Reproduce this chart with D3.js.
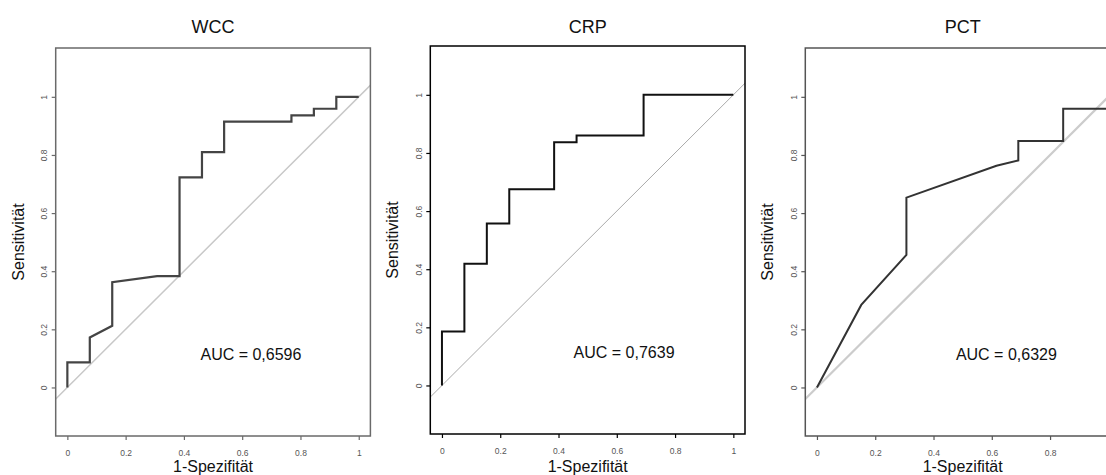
<!DOCTYPE html>
<html>
<head>
<meta charset="utf-8">
<script src="https://cdn.jsdelivr.net/npm/d3@7"></script>
<style>
body { margin: 0; background: #fff; }
svg { display: block; font-family: "Liberation Sans", Arial, sans-serif; }
</style>
</head>
<body>
<div id="chart"></div>
<script>
// ROC curves (x = 1-Spezifität, y = Sensitivität)
var wccFpr = [0, 0, 0.077, 0.077, 0.154, 0.154, 0.308, 0.385, 0.385, 0.462, 0.462, 0.538, 0.538, 0.769, 0.769, 0.846, 0.846, 0.923, 0.923, 1];
var wccTpr = [0, 0.086, 0.086, 0.172, 0.212, 0.362, 0.383, 0.383, 0.723, 0.723, 0.81, 0.81, 0.915, 0.915, 0.936, 0.936, 0.959, 0.959, 1, 1];

var crpFpr = [0, 0, 0.077, 0.077, 0.154, 0.154, 0.231, 0.231, 0.385, 0.385, 0.462, 0.462, 0.692, 0.692, 1];
var crpTpr = [0, 0.186, 0.186, 0.419, 0.419, 0.557, 0.557, 0.675, 0.675, 0.837, 0.837, 0.86, 0.86, 1, 1];

var pctFpr = [0, 0.152, 0.307, 0.307, 0.616, 0.691, 0.691, 0.845, 0.845, 1];
var pctTpr = [0, 0.284, 0.456, 0.653, 0.763, 0.781, 0.848, 0.848, 0.959, 0.959];

var titles = ["WCC", "CRP", "PCT"];
var aucLabels = ["AUC = 0,6596", "AUC = 0,7639", "AUC = 0,6329"];
var tickValues = [0, 0.2, 0.4, 0.6, 0.8, 1];
var tickLabels = ["0", "0.2", "0.4", "0.6", "0.8", "1"];

var width = 1106, height = 475;

var panels = [
    { fpr: wccFpr, tpr: wccTpr, left: 55.7, top: 48, box: "#6a6a6a", curve: "#444", curveW: 2.2, diag: "#c8c8c8", diagW: 1.5, aucX: 0.63 },
    { fpr: crpFpr, tpr: crpTpr, left: 430.3, top: 46, box: "#000", curve: "#111", curveW: 2, diag: "#aaa", diagW: 1, aucX: 0.625 },
    { fpr: pctFpr, tpr: pctTpr, left: 805.3, top: 48, box: "#555", curve: "#333", curveW: 2, diag: "#cccccc", diagW: 2.2, aucX: 0.65 }
];
var boxW = 314.7, boxH = 388;

var svg = d3.select("#chart").append("svg")
    .attr("width", width)
    .attr("height", height);

panels.forEach(function (p, i) {
    var x = d3.scaleLinear().domain([-0.04, 1.04]).range([p.left, p.left + boxW]);
    var y = d3.scaleLinear().domain([-0.167, 1.168]).range([p.top + boxH, p.top]);

    var g = svg.append("g");

    g.append("clipPath").attr("id", "clip" + i)
        .append("rect")
        .attr("x", p.left).attr("y", p.top)
        .attr("width", boxW).attr("height", boxH);

    // diagonal reference line
    g.append("line")
        .attr("clip-path", "url(#clip" + i + ")")
        .attr("x1", x(-0.04)).attr("y1", y(-0.04))
        .attr("x2", x(1.2)).attr("y2", y(1.2))
        .attr("stroke", p.diag)
        .attr("stroke-width", p.diagW);

    var pts = p.fpr.map(function (v, k) { return [v, p.tpr[k]]; });
    var line = d3.line().x(function (d) { return x(d[0]); }).y(function (d) { return y(d[1]); });

    g.append("path")
        .datum(pts)
        .attr("d", line)
        .attr("fill", "none")
        .attr("stroke", p.curve)
        .attr("stroke-width", p.curveW)
        .attr("stroke-linejoin", "miter");

    // box
    g.append("rect")
        .attr("x", p.left).attr("y", p.top)
        .attr("width", boxW).attr("height", boxH)
        .attr("fill", "none")
        .attr("stroke", p.box)
        .attr("stroke-width", 1.5);

    // axes
    var xAxis = d3.axisBottom(x).tickValues(tickValues)
        .tickFormat(function (d, k) { return tickLabels[k]; })
        .tickSize(4).tickPadding(10);
    var ax = g.append("g")
        .attr("transform", "translate(0," + (p.top + boxH) + ")")
        .call(xAxis);
    ax.select(".domain").remove();
    ax.selectAll(".tick line").attr("stroke", p.box).attr("stroke-width", 1.2);
    ax.selectAll("text").attr("font-size", "8.5px").attr("fill", "#555");
    // labels that fall past the page edge are not shown (as in the original)
    ax.selectAll(".tick").filter(function (d) { return x(d) > width - 4; }).select("text").remove();

    var yAxis = d3.axisLeft(y).tickValues(tickValues)
        .tickFormat(function (d, k) { return tickLabels[k]; })
        .tickSize(4).tickPadding(0);
    var ay = g.append("g")
        .attr("transform", "translate(" + p.left + ",0)")
        .call(yAxis);
    ay.select(".domain").remove();
    ay.selectAll(".tick line").attr("stroke", p.box).attr("stroke-width", 1.2);
    ay.selectAll("text")
        .attr("font-size", "8.5px").attr("fill", "#555")
        .attr("x", null).attr("dy", null)
        .attr("text-anchor", "middle")
        .attr("transform", "translate(-11,0) rotate(-90)")
        .attr("dy", "0.32em");

    // titles
    g.append("text")
        .attr("x", p.left + boxW / 2).attr("y", 33)
        .attr("text-anchor", "middle")
        .attr("font-size", "18px").attr("fill", "#111")
        .text(titles[i]);

    g.append("text")
        .attr("x", p.left + boxW / 2).attr("y", 472)
        .attr("text-anchor", "middle")
        .attr("font-size", "16px").attr("fill", "#111")
        .text("1-Spezifität");

    g.append("text")
        .attr("transform", "translate(" + (p.left - 32) + "," + (p.top + boxH / 2) + ") rotate(-90)")
        .attr("text-anchor", "middle")
        .attr("font-size", "16px").attr("fill", "#111")
        .text("Sensitivität");

    g.append("text")
        .attr("x", x(p.aucX)).attr("y", y(0.114))
        .attr("dy", "0.35em")
        .attr("text-anchor", "middle")
        .attr("font-size", "16px").attr("fill", "#111")
        .text(aucLabels[i]);
});
</script>
</body>
</html>
